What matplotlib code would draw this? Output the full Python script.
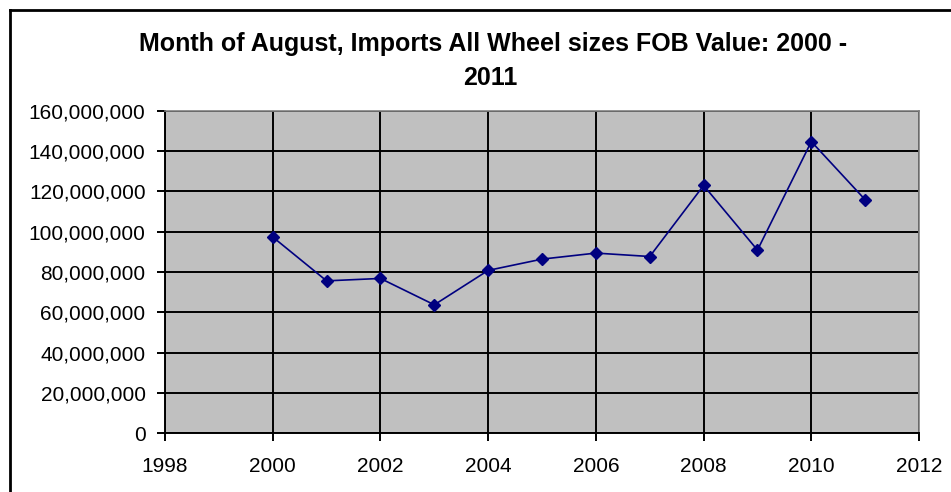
import matplotlib.pyplot as plt
from matplotlib.lines import Line2D
from matplotlib.ticker import FuncFormatter, MultipleLocator

# data
years = [2000, 2001, 2002, 2003, 2004, 2005, 2006, 2007, 2008, 2009, 2010, 2011]
fob_value = [97.4e6, 75.6e6, 76.8e6, 63.7e6, 80.8e6, 86.4e6,
             89.4e6, 87.7e6, 123.0e6, 90.9e6, 144.8e6, 115.9e6]

title_lines = ["Month of August, Imports All Wheel sizes FOB Value: 2000 -", "2011"]

plt.rcParams['font.family'] = ['Liberation Sans', 'DejaVu Sans']

fig = plt.figure(figsize=(9.51, 4.92), dpi=100)
ax = fig.add_axes([0.1735, 0.1199, 0.7929, 0.6545])

ax.set_facecolor("#c0c0c0")
ax.plot(years, fob_value, color="#000080", linewidth=1.2,
        marker="D", markersize=6.5, markerfacecolor="#000080",
        markeredgecolor="#000080", zorder=3)

ax.set_xlim(1998, 2012)
ax.set_ylim(0, 160e6)
ax.xaxis.set_major_locator(MultipleLocator(2))
ax.yaxis.set_major_locator(MultipleLocator(20e6))
ax.yaxis.set_major_formatter(FuncFormatter(lambda v, p: f"{int(v):,}"))

ax.grid(True, color="black", linewidth=1.4, zorder=1)
ax.set_axisbelow(True)

for side in ["top", "right"]:
    ax.spines[side].set_color("#808080")
    ax.spines[side].set_linewidth(1.2)
for side in ["left", "bottom"]:
    ax.spines[side].set_color("black")
    ax.spines[side].set_linewidth(1.4)

ax.tick_params(axis="both", direction="out", length=6, width=1.4,
               labelsize=15, colors="black")
ax.tick_params(axis="x", pad=11)
ax.tick_params(axis="y", pad=8)

# title in two lines, like the original
fig.text(493 / 951, 1 - 44 / 492, title_lines[0], ha="center", va="center",
         fontsize=18, fontweight="bold")
fig.text(490 / 951, 1 - 78 / 492, title_lines[1], ha="center", va="center",
         fontsize=18, fontweight="bold")

# outer chart frame (top and left visible)
fig.add_artist(Line2D([9.5 / 951, 1], [1 - 10 / 492] * 2, color="black",
                      linewidth=2, transform=fig.transFigure))
fig.add_artist(Line2D([9.5 / 951] * 2, [0, 1 - 10 / 492], color="black",
                      linewidth=2, transform=fig.transFigure))

fig.savefig("out.png", dpi=100)
